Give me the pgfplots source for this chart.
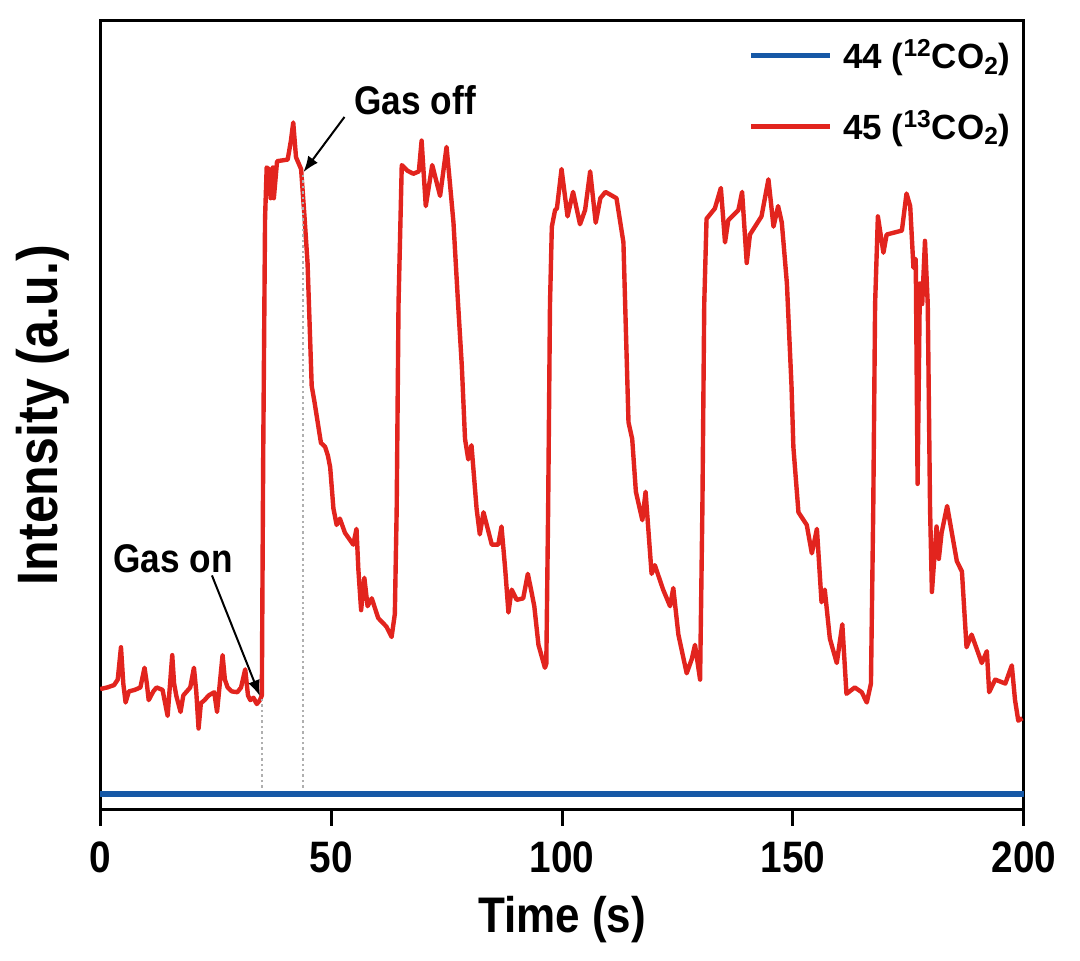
\documentclass[border=0pt]{standalone}
\usepackage{fontspec}
\setmainfont{Liberation Sans}[FakeStretch=0.88]
\newfontfamily\legfont{Liberation Sans}
\usepackage{pgfplots}
\pgfplotsset{compat=1.18}
\usetikzlibrary{arrows.meta}
\definecolor{myred}{RGB}{226,36,30}
\definecolor{myblue}{RGB}{22,88,166}
\definecolor{dotgray}{RGB}{175,175,175}
\begin{document}
\begin{tikzpicture}
\useasboundingbox (-50.1pt,-75.6pt) rectangle (489.9pt,404.9pt);
\begin{axis}[
  at={(0,0)}, anchor=south west,
  scale only axis, width=461.8pt, height=394.55pt,
  xmin=0, xmax=200, ymin=0, ymax=100,
  axis line style={line width=1.5pt},
  xtick={0,50,100,150,200}, xticklabels={0,50,100,150,200},
  ytick=\empty, xtick pos=bottom, tick align=outside,
  major tick length=8pt,
  every tick/.style={black, line width=1.5pt},
  xticklabel style={font=\bfseries\fontsize{22}{22}\selectfont, anchor=center, yshift=-16pt},
  xlabel={Time (s)},
  xlabel style={font=\bfseries\fontsize{25}{25}\selectfont, at={(axis description cs:0.5,-0.1559)}, anchor=base},
  ylabel={Intensity (a.u.)},
  ylabel style={font=\bfseries\fontsize{28.5}{28.5}\selectfont, at={(axis description cs:-0.046,0.5)}, anchor=base},
  legend style={at={(axis description cs:0.9904,0.982)}, anchor=north east, draw=none, fill=none,
    font=\legfont\bfseries\fontsize{17.5}{17.5}\selectfont, row sep=15pt, inner sep=0pt},
  legend cell align=left,
  legend image code/.code={\draw[#1, line width=2.5pt] (0pt,0pt) -- (39.5pt,0pt); \path (42.5pt,0pt);},
]
\addplot[myblue, line width=2.75pt] coordinates {(0,2.0) (200,2.0)};
\addlegendentry{44 (\textsuperscript{12}CO\textsubscript{2})}
\addplot[myred, line width=2.2pt, line join=round] coordinates {
(0,15.3) (1.5,15.5) (3.0,15.8) (3.8,16.5) (4.5,20.6) (5.0,16) (5.5,13.6) (6.2,15) (7.5,15.2) (8.7,15.5)
(9.6,18.0) (10.1,16) (10.5,13.9) (11.5,15) (12.2,15.5) (13.5,15.2) (14.6,11.9) (15.0,15) (15.6,19.6) (16.0,16)
(16.5,14.4) (17.4,12.4) (18.0,14.5) (18.6,14.9) (19.5,15.5) (20.3,18.0) (20.8,15) (21.3,10.3) (21.8,13.5) (22.6,13.9)
(23.5,14.5) (24.7,14.9) (25.3,12.4) (25.9,16) (26.5,19.6) (27.0,16.5) (27.6,15.5) (28.5,15) (29.7,14.9) (30.5,15.5)
(31.4,17.8) (32.0,14.5) (32.5,13.9) (33.2,14.2) (33.9,13.4) (34.6,13.9) (35.0,14.5) (35.3,45) (35.7,75) (36.05,81.4)
(36.5,81.2) (36.9,77.5) (37.4,81.4) (37.6,77.5) (38.3,82.2) (39.5,82.3) (40.6,82.4) (41.3,84.8) (41.8,87.1) (42.4,82.7)
(43.5,81.2) (44.2,75.5) (44.9,69.3) (45.8,53.7) (46.4,51.7) (47.8,46.5) (48.7,46.0) (49.3,44.9) (49.8,43.4) (50.5,38.2)
(51.2,36.1) (51.9,36.9) (53.0,35.1) (54.8,33.6) (55.5,35.6) (55.9,30.5) (56.5,25.3) (57.2,29.4) (57.9,25.8) (58.8,26.8)
(60.2,24.3) (62.0,23.2) (63.1,21.9) (63.8,24.8) (64.2,38) (64.6,64.1) (65.3,81.7) (66.5,81.0) (67.8,80.6) (69.0,80.9)
(69.6,84.8) (70.5,76.5) (71.9,81.7) (73.6,77.8) (75.0,84.0) (75.7,79.6) (76.5,74.4) (77.5,64.1) (78.3,56.3) (79.0,47.0)
(79.7,44.4) (80.4,46.2) (81.5,38.2) (82.2,34.9) (83.0,37.7) (84.8,33.6) (86.2,33.6) (86.9,35.9) (87.7,30.5) (88.4,25.0)
(89.1,27.9) (90.2,26.6) (91.6,26.8) (92.6,29.9) (93.3,27.9) (94.0,25.8) (94.9,20.9) (96.3,18.0) (96.6,18.5) (97.0,38.2)
(97.4,64.1) (97.8,73.9) (98.5,76.0) (98.9,76.2) (99.9,81.2) (101.2,75.2) (102.4,78.3) (103.9,74.2) (105.0,76.0) (106.1,80.9)
(107.3,74.4) (108.3,77.5) (109.4,78.3) (111.8,77.5) (113.3,71.9) (113.8,61.5) (114.4,49.1) (115.2,47.0) (116.0,40.3) (117.4,36.7)
(118.1,40.3) (119.4,29.9) (120.1,31.0) (121.9,27.9) (123.4,25.8) (124.1,28.1) (125.2,22.2) (127.0,17.3) (128.1,19.1) (128.8,20.9)
(129.9,16.5) (130.4,38.2) (130.8,64.1) (131.3,74.9) (133.1,76.2) (134.4,78.8) (135.3,71.9) (136.0,74.7) (138.2,76.0) (139.0,78.3)
(140.0,69.3) (140.7,72.9) (143.2,75.2) (144.7,79.9) (145.8,73.9) (146.8,76.5) (147.6,74.4) (148.7,66.7) (149.7,53.7) (150.1,46.0)
(151.2,37.7) (153.0,36.1) (154.1,32.5) (155.2,35.6) (156.2,26.3) (156.9,27.9) (158.0,21.7) (159.5,18.6) (160.7,23.5) (161.6,14.7)
(163.4,15.5) (164.9,14.9) (166.0,13.6) (166.9,16.0) (167.4,38.2) (167.8,64.1) (168.4,75.2) (169.6,70.6) (170.3,72.9) (173.6,73.4)
(174.6,78.1) (175.4,76.5) (176.1,68.7) (176.6,69.8) (177.0,41.3) (177.5,66.7) (178.0,64.1) (178.6,72.1) (179.2,64.1) (179.7,38.2)
(180.1,27.6) (181.1,35.9) (181.6,31.8) (182.2,35.1) (183.4,38.5) (185.5,31.5) (186.6,30.2) (187.6,20.6) (188.7,22.2) (190.9,18.6)
(192.0,20.1) (192.5,14.9) (193.8,16.5) (196.0,16.0) (197.4,18.3) (198.1,13.9) (198.8,11.3) (199.7,11.6)
};
\addlegendentry{45 (\textsuperscript{13}CO\textsubscript{2})}
\addplot[forget plot, dotgray, line width=1pt, dash pattern=on 1.2pt off 1.5pt] coordinates {(35.0,2.8) (35.0,14.0)};
\addplot[forget plot, dotgray, line width=1pt, dash pattern=on 1.2pt off 1.5pt] coordinates {(43.9,2.8) (43.9,80.6)};
\draw[line width=1pt, -{Latex[length=8pt,width=6pt]}] (axis cs:24.2,29.7) -- (axis cs:34.6,14.4);
\draw[line width=1pt, -{Latex[length=8pt,width=6pt]}] (axis cs:52.9,87.8) -- (axis cs:44.0,80.8);
\node[font=\bfseries\fontsize{20}{20}\selectfont] at (axis cs:15.8,31.8) {Gas on};
\node[font=\bfseries\fontsize{20}{20}\selectfont] at (axis cs:68.2,89.9) {Gas off};
\end{axis}
\end{tikzpicture}
\end{document}
